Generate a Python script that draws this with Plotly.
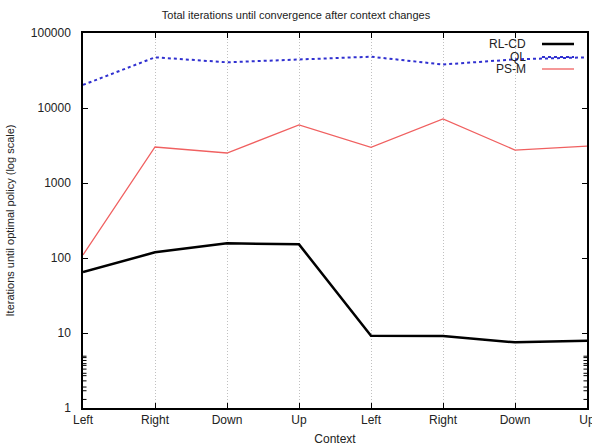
import math
import plotly.graph_objects as go

contexts = ["Left", "Right", "Down", "Up", "Left", "Right", "Down", "Up"]
rl_cd = [65, 119, 157, 152, 9.2, 9.1, 7.5, 7.9]
ql = [20300, 47400, 40700, 44000, 48300, 38000, 44500, 47400]
ps_m = [110, 3020, 2510, 5940, 2990, 7130, 2750, 3100]

series_names = ["RL-CD", "QL", "PS-M"]
y_tickvals = [1, 10, 100, 1000, 10000, 100000]
y_ticktext = ["1", "10", "100", "1000", "10000", "100000"]
y_minor_vals = [m * d for d in [1, 10, 100, 1000, 10000] for m in (2, 5, 8)]

xs = list(range(len(contexts)))
font_family = "Liberation Sans, Arial, sans-serif"

styles = {
    "RL-CD": dict(color="black", width=2.5, dash="solid"),
    "QL": dict(color="#3030d0", width=2, dash="dot"),
    "PS-M": dict(color="#f06060", width=1.3, dash="solid"),
}
data = {"RL-CD": rl_cd, "QL": ql, "PS-M": ps_m}

fig = go.Figure()
for name in series_names:
    fig.add_trace(go.Scatter(x=xs, y=data[name], mode="lines", name=name,
                             line=styles[name], showlegend=False))

# gnuplot-style legend: text right-aligned, sample to its right
L, R, T, B = 83, 587, 33, 408
def px(x):
    return (x - L) / (R - L)
def py(y):
    return (B - y) / (B - T)

legend_y = [44, 57, 69]
for name, yy in zip(series_names, legend_y):
    fig.add_annotation(x=px(528), y=py(yy), xref="paper", yref="paper",
                       text=name, showarrow=False, xanchor="right", yanchor="middle",
                       font=dict(size=12, color="#222222", family=font_family))
    st = styles[name]
    fig.add_shape(type="line", xref="paper", yref="paper",
                  x0=px(542), x1=px(574), y0=py(yy), y1=py(yy),
                  line=dict(color=st["color"], width=st["width"], dash=st["dash"]))

# minor y tick marks on both sides (gnuplot style); log axis -> log10 coords
for v in y_minor_vals:
    lv = math.log10(v)
    for x0, x1 in ((0, 0.007), (0.993, 1)):
        fig.add_shape(type="line", xref="paper", yref="y", x0=x0, x1=x1,
                      y0=lv, y1=lv, line=dict(color="black", width=1))

fig.update_layout(
    width=592, height=446,
    margin=dict(l=L, r=592 - R, t=T, b=446 - B, autoexpand=False),
    paper_bgcolor="white", plot_bgcolor="white",
    font=dict(family=font_family, size=11, color="#222222"),
    title=dict(text="Total iterations until convergence after context changes",
               x=0.5, xanchor="center", y=0.966, yanchor="middle",
               font=dict(size=11, color="#222222")),
    showlegend=False,
)
fig.update_xaxes(
    range=[0, len(contexts) - 1],
    tickmode="array", tickvals=xs, ticktext=contexts,
    showgrid=True, gridcolor="#c0c0c0", griddash="1px,2px", gridwidth=1,
    ticks="inside", ticklen=5, tickcolor="black",
    showline=True, linecolor="black", linewidth=1.5, mirror="ticks",
    zeroline=False, automargin=False, ticklabeloverflow="allow",
    title=dict(text="Context", standoff=10, font=dict(size=12)),
    tickfont=dict(size=12),
)
fig.update_yaxes(
    type="log", range=[0, 5],
    tickmode="array", tickvals=y_tickvals, ticktext=y_ticktext,
    showgrid=False,
    ticks="inside", ticklen=5, tickcolor="black",
    showline=True, linecolor="black", linewidth=1.5, mirror="ticks",
    zeroline=False, automargin=False, ticklabelstandoff=8,
    title=dict(text="Iterations until optimal policy (log scale)", standoff=14,
               font=dict(size=11)),
    tickfont=dict(size=12),
)

fig.write_html("out.html", config={"displayModeBar": False},
               post_script="document.body.style.margin='0';document.body.style.overflow='hidden';")
